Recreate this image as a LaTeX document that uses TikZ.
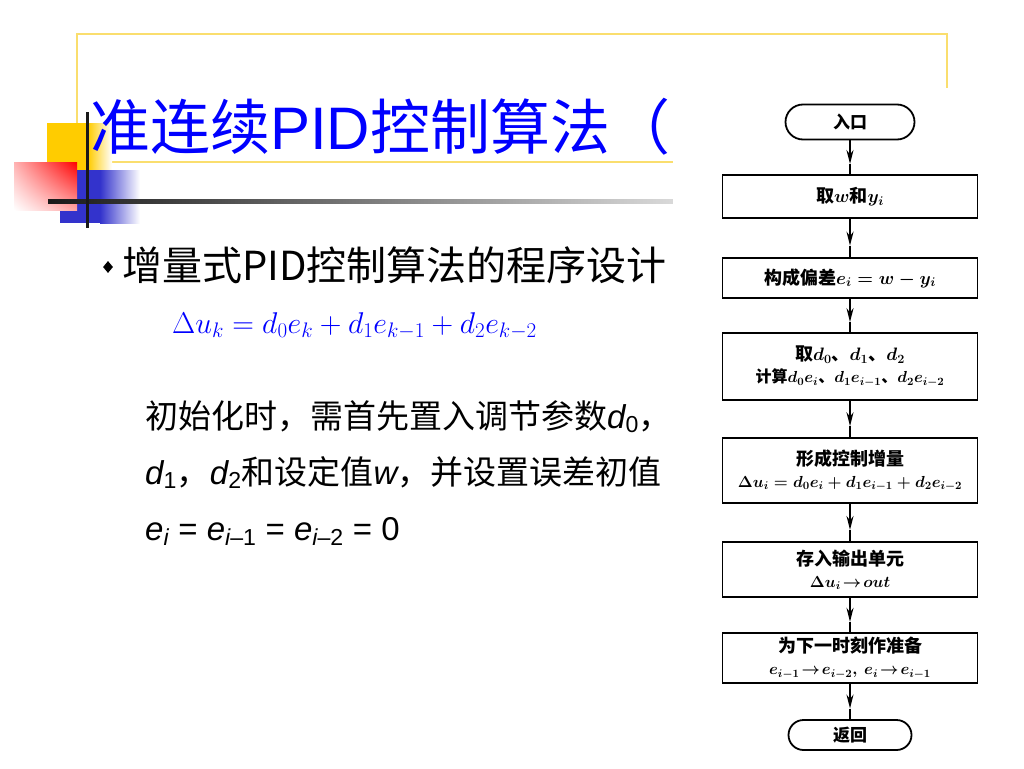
\RequirePackage{fix-cm}
\documentclass[tikz,border=0pt]{standalone}
\usepackage{fontspec}
\setmainfont{Liberation Sans}
\newfontfamily\cjk{Noto Sans CJK SC}
\newfontfamily\lat{Liberation Sans}
\usetikzlibrary{shapes.geometric,shapes.misc,arrows.meta,shadings}
\definecolor{frameyellow}{RGB}{250,222,110}
\definecolor{sqyellow}{RGB}{255,204,0}
\definecolor{sqblue}{RGB}{51,51,204}
\definecolor{titleblue}{RGB}{0,0,255}
\newcommand\myit[1]{{\lat\itshape #1}}
\newcommand\mth{\fontsize{16}{21}\selectfont}
\begin{document}
\begin{tikzpicture}[x=1pt,y=-1pt,
  fbox/.style={draw, line width=1.8pt, minimum width=255pt, inner sep=2pt, align=center,
    font=\cjk\bfseries\boldmath\fontsize{18}{22}\selectfont},
  term/.style={draw, line width=1.8pt, rounded rectangle, inner sep=2pt,
    font=\cjk\bfseries\fontsize{17}{20}\selectfont},
  flowhead/.style={line width=1.8pt, -{Stealth[length=14pt,width=7pt]}},
  flowtail/.style={line width=1.8pt}]
\useasboundingbox (0,0) rectangle (1024,768);
\fill[white] (0,0) rectangle (1024,768);
% decorative frame
\draw[frameyellow, line width=1.3pt] (77,34) rectangle (947,162);
% yellow square
\fill[sqyellow] (47,123) rectangle (88,170);
\shade[left color=sqyellow, right color=white] (88,123) rectangle (112,170);
% blue square
\fill[sqblue] (60,170) rectangle (100,223);
\shade[left color=sqblue, right color=white] (100,170) rectangle (140,223);
% red square
\shade[upper right=red, upper left=red!30!white, lower right=red!35!white, lower left=white] (14,162) rectangle (77,210);
% black lines
\shade[left color=black!90, right color=black!15] (48,199) rectangle (673,203.5);
\fill[black!90] (85.5,112) rectangle (89,228);
% title
\node[anchor=base west, text=titleblue, inner sep=0, font=\cjk\fontsize{60}{70}\selectfont] (title) at (90,149) {准连续{\lat PID}控制算法（};
% bullet and subtitle
\node[diamond, fill=black, minimum width=10pt, minimum height=12pt, inner sep=0] (bul) at (108,267) {};
\node[anchor=base west, inner sep=0, font=\cjk\fontsize{40}{46}\selectfont] (sub) at (122,280) {增量式PID控制算法的程序设计};
% equation
\node[anchor=base west, inner sep=0, text=titleblue, font=\fontsize{30}{36}\selectfont] (eq) at (172,333) {$\Delta u_k = d_0e_k + d_1e_{k-1} + d_2e_{k-2}$};
% paragraph
\node[anchor=base west, inner sep=0, font=\cjk\fontsize{33}{38}\selectfont] (p1) at (145,428) {初始化时，需首先置入调节参数\myit{d}\textsubscript{\lat 0}，};
\node[anchor=base west, inner sep=0, font=\cjk\fontsize{33}{38}\selectfont] (p2) at (145,484) {\myit{d}\textsubscript{\lat 1}，\myit{d}\textsubscript{\lat 2}和设定值\myit{w}，并设置误差初值};
\node[anchor=base west, inner sep=0, font=\lat\fontsize{33}{38}\selectfont] (p3) at (145,540) {\myit{e}\textsubscript{\myit{i}} = \myit{e}\textsubscript{\myit{i}–1} = \myit{e}\textsubscript{\myit{i}–2} = 0};
% flowchart area
\fill[white] (673,88) rectangle (1024,768);
\node[term, minimum width=133pt, minimum height=35pt] (start) at (850,122) {入口};
\node[fbox, minimum height=43pt] (b1) at (850,196.5) {取$w$和$y_i$};
\node[fbox, minimum height=40pt] (b2) at (850,278) {构成偏差$e_i=w-y_i$};
\node[fbox, minimum height=67pt] (b3) at (850,366.5) {取$d_0$、$d_1$、$d_2$\\{\mth 计算$d_0e_i$、$d_1e_{i-1}$、$d_2e_{i-2}$}};
\node[fbox, minimum height=65pt] (b4) at (850,470.5) {形成控制增量\\{\mth $\Delta u_i=d_0e_i+d_1e_{i-1}+d_2e_{i-2}$}};
\node[fbox, minimum height=55pt] (b5) at (850,569.5) {存入输出单元\\{\mth $\Delta u_i\!\rightarrow\! out$}};
\node[fbox, minimum height=50pt] (b6) at (850,658) {为下一时刻作准备\\{\mth $e_{i-1}\!\rightarrow\! e_{i-2},\ e_i\!\rightarrow\! e_{i-1}$}};
\node[term, minimum width=127pt, minimum height=30pt] (end) at (850,735) {返回};
% connectors with mid arrowheads
\foreach \a/\b/\m in {start/b1/m1, b1/b2/m2, b2/b3/m3, b3/b4/m4, b4/b5/m5, b5/b6/m6, b6/end/m7}{
  \path (\a.south) -- (\b.north) coordinate[pos=0.7] (\m);
  \draw[flowhead] (\a.south) -- (\m);
  \draw[flowtail] (\m) -- (\b.north);
}
\end{tikzpicture}
\end{document}
